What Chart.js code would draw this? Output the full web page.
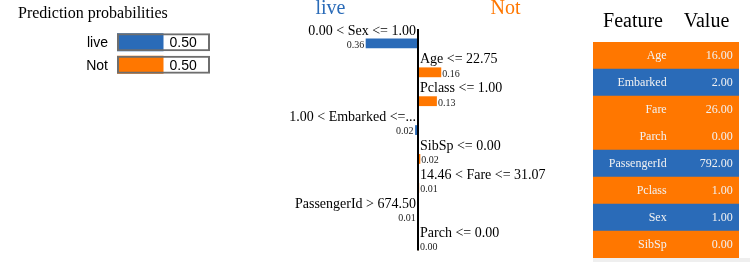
<!DOCTYPE html>
<html>
<head>
<meta charset="utf-8">
<title>Prediction explanation</title>
<script src="https://cdn.jsdelivr.net/npm/chart.js@4.4.0/dist/chart.umd.min.js"></script>
<style>
  body { margin: 0; background: #fff; width: 750px; height: 262px; overflow: hidden; position: relative; }
  canvas { position: absolute; top: 0; }
  #probChart { left: 0; }
  #limeChart { left: 248px; }
  #tableChart { left: 593px; }
  #strip { position: absolute; left: 593px; top: 258px; width: 157px; height: 4px; background: #efefef; }
</style>
</head>
<body>
<canvas id="probChart" width="250" height="90"></canvas>
<canvas id="limeChart" width="340" height="262"></canvas>
<canvas id="tableChart" width="146" height="262"></canvas>
<div id="strip"></div>

<script>
const classNames = ['live', 'Not'];
const probabilities = [0.50, 0.50];

const featureNames = ['Sex', 'Age', 'Pclass', 'Embarked', 'SibSp', 'Fare', 'PassengerId', 'Parch'];
const featureLabels = ['0.00 < Sex <= 1.00', 'Age <= 22.75', 'Pclass <= 1.00', '1.00 < Embarked <=...',
  'SibSp <= 0.00', '14.46 < Fare <= 31.07', 'PassengerId > 674.50', 'Parch <= 0.00'];
const weights = [-0.36, 0.16, 0.13, -0.02, 0.016, 0.008, -0.006, 0.003];

const tableFeatures = ['Age', 'Embarked', 'Fare', 'Parch', 'PassengerId', 'Pclass', 'Sex', 'SibSp'];
const tableValues = [16, 2, 26, 0, 792, 1, 1, 0];

const BLUE = '#2a6bb8';
const ORANGE = '#ff7700';
const classColors = [BLUE, ORANGE];
const SERIF = '"Liberation Serif", "DejaVu Serif", serif';
const SANS = '"Liberation Sans", Arial, sans-serif';

function colorFor(w) {
  return w < 0 ? BLUE : ORANGE;
}

const baseOptions = {
  indexAxis: 'y',
  responsive: false,
  animation: false,
  events: [],
  plugins: { legend: { display: false }, tooltip: { enabled: false } }
};

// --- prediction probabilities (left) ---
const probLabels = {
  id: 'probLabels',
  afterDraw(chart) {
    const ctx = chart.ctx;
    const meta = chart.getDatasetMeta(1);
    ctx.save();
    ctx.fillStyle = '#000';
    ctx.font = '16px ' + SERIF;
    ctx.textAlign = 'left';
    ctx.textBaseline = 'alphabetic';
    ctx.fillText('Prediction probabilities', 18, 18);
    ctx.font = '14px ' + SANS;
    meta.data.forEach((bar, i) => {
      ctx.textAlign = 'right';
      ctx.fillText(classNames[i], chart.chartArea.left - 9, bar.y + 5);
      ctx.textAlign = 'left';
      ctx.fillText(probabilities[i].toFixed(2), bar.x + 6, bar.y + 5);
    });
    ctx.restore();
  }
};

new Chart(document.getElementById('probChart'), {
  type: 'bar',
  data: {
    labels: classNames,
    datasets: [
      {
        data: classNames.map(() => 1),
        backgroundColor: 'rgba(0,0,0,0)',
        borderColor: '#6e6e6e',
        borderWidth: 2,
        borderSkipped: false,
        grouped: false,
        order: 0,
        barPercentage: 0.8,
        categoryPercentage: 1
      },
      {
        data: probabilities,
        backgroundColor: classColors,
        borderWidth: 0,
        grouped: false,
        order: 1,
        barPercentage: 0.8,
        categoryPercentage: 1
      }
    ]
  },
  options: {
    ...baseOptions,
    layout: { padding: { left: 117, right: 40, top: 31, bottom: 14 } },
    scales: {
      x: { display: false, min: 0, max: 1 },
      y: { display: false }
    }
  },
  plugins: [probLabels]
});

// --- feature weights (middle) ---
const limeLabels = {
  id: 'limeLabels',
  afterDatasetsDraw(chart) {
    const ctx = chart.ctx;
    const meta = chart.getDatasetMeta(0);
    const zero = chart.scales.x.getPixelForValue(0);
    const last = meta.data[meta.data.length - 1];
    ctx.save();

    ctx.strokeStyle = '#000';
    ctx.lineWidth = 2;
    ctx.beginPath();
    ctx.moveTo(zero, chart.chartArea.top);
    ctx.lineTo(zero, last.y + last.height / 2);
    ctx.stroke();

    ctx.textBaseline = 'alphabetic';
    ctx.font = '20px ' + SERIF;
    ctx.textAlign = 'center';
    ctx.fillStyle = BLUE;
    ctx.fillText(classNames[0], zero - 87.5, 13.5);
    ctx.fillStyle = ORANGE;
    ctx.fillText(classNames[1], zero + 87.5, 13.5);

    meta.data.forEach((bar, i) => {
      const w = weights[i];
      const top = bar.y - bar.height / 2;
      const bottom = bar.y + bar.height / 2;
      ctx.fillStyle = '#000';
      ctx.font = '14px ' + SERIF;
      if (w < 0) {
        ctx.textAlign = 'right';
        ctx.fillText(featureLabels[i], zero - 2, top - 4);
      } else {
        ctx.textAlign = 'left';
        ctx.fillText(featureLabels[i], zero + 2, top - 4);
      }
      ctx.fillStyle = '#222';
      ctx.font = '10px ' + SERIF;
      if (w < 0) {
        ctx.textAlign = 'right';
        ctx.fillText(Math.abs(w).toFixed(2), bar.x - 1.5, bottom - 0.5);
      } else {
        ctx.textAlign = 'left';
        ctx.fillText(Math.abs(w).toFixed(2), Math.max(bar.x, zero + 1) + 1, bottom - 0.5);
      }
    });
    ctx.restore();
  }
};

new Chart(document.getElementById('limeChart'), {
  type: 'bar',
  data: {
    labels: featureNames,
    datasets: [{
      data: weights,
      backgroundColor: weights.map(colorFor),
      borderWidth: 0,
      barPercentage: 0.34,
      categoryPercentage: 1
    }]
  },
  options: {
    ...baseOptions,
    layout: { padding: { left: 0, right: 0, top: 29, bottom: 2 } },
    scales: {
      x: { display: false, min: -1.17, max: 1.17 },
      y: { display: false }
    }
  },
  plugins: [limeLabels]
});

// --- feature / value table (right) ---
const tableColors = tableFeatures.map(f => colorFor(weights[featureNames.indexOf(f)]));

const tableText = {
  id: 'tableText',
  afterDatasetsDraw(chart) {
    const ctx = chart.ctx;
    const meta = chart.getDatasetMeta(0);
    ctx.save();
    ctx.textBaseline = 'alphabetic';
    ctx.fillStyle = '#000';
    ctx.font = '20px ' + SERIF;
    ctx.textAlign = 'center';
    ctx.fillText('Feature', 40, 27);
    ctx.fillText('Value', 113.5, 27);

    ctx.fillStyle = '#f2f2f2';
    ctx.font = '12px ' + SERIF;
    ctx.textAlign = 'right';
    meta.data.forEach((bar, i) => {
      ctx.fillText(tableFeatures[i], 73.7, bar.y + 3);
      ctx.fillText(tableValues[i].toFixed(2), 139.7, bar.y + 3);
    });
    ctx.restore();
  }
};

new Chart(document.getElementById('tableChart'), {
  type: 'bar',
  data: {
    labels: tableFeatures,
    datasets: [{
      data: tableFeatures.map(() => 1),
      backgroundColor: tableColors,
      borderWidth: 0,
      barPercentage: 1,
      categoryPercentage: 1
    }]
  },
  options: {
    ...baseOptions,
    layout: { padding: { left: 0, right: 0, top: 42, bottom: 4 } },
    scales: {
      x: { display: false, min: 0, max: 1 },
      y: { display: false }
    }
  },
  plugins: [tableText]
});
</script>
</body>
</html>
